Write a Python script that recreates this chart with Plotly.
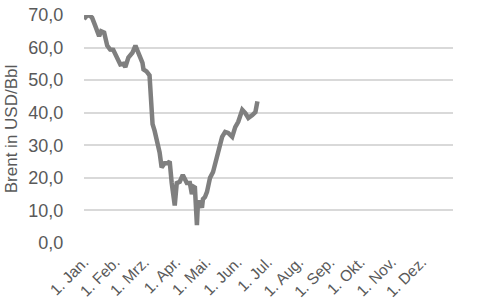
import plotly.graph_objects as go

dates = [
    "2020-01-01", "2020-01-03", "2020-01-06", "2020-01-09", "2020-01-12", "2020-01-14",
    "2020-01-16", "2020-01-18", "2020-01-21", "2020-01-24", "2020-01-27", "2020-01-30",
    "2020-02-03", "2020-02-06", "2020-02-09", "2020-02-11", "2020-02-14", "2020-02-18",
    "2020-02-21", "2020-02-24", "2020-02-28", "2020-02-29", "2020-03-03", "2020-03-06",
    "2020-03-08", "2020-03-09", "2020-03-11", "2020-03-13", "2020-03-16", "2020-03-18",
    "2020-03-21", "2020-03-24", "2020-03-26", "2020-03-28", "2020-03-31", "2020-04-02",
    "2020-04-05", "2020-04-08", "2020-04-12", "2020-04-15", "2020-04-17", "2020-04-19",
    "2020-04-20", "2020-04-22", "2020-04-23", "2020-04-25", "2020-04-27", "2020-04-28",
    "2020-04-30", "2020-05-02", "2020-05-05", "2020-05-08", "2020-05-10", "2020-05-13",
    "2020-05-17", "2020-05-20", "2020-05-23", "2020-05-27", "2020-05-30", "2020-06-02",
    "2020-06-06", "2020-06-09", "2020-06-12", "2020-06-16", "2020-06-19", "2020-06-21",
]
brent = [
    68.7, 69.5, 70.0, 69.2, 66.8, 64.5,
    63.5, 65.0, 64.6, 60.6, 59.4, 59.3,
    56.5, 54.8, 55.0, 54.0, 56.9, 58.4,
    60.6, 58.0, 55.3, 53.3, 52.7, 51.5,
    44.0, 36.5, 34.5, 31.8, 27.8, 23.2,
    24.5, 24.5, 25.0, 18.4, 11.5, 18.4,
    18.8, 20.9, 18.4, 18.4, 15.0, 17.2,
    17.0, 5.5, 12.5, 12.5, 10.8, 13.5,
    14.1, 15.7, 20.0, 21.8, 24.0, 28.0,
    32.6, 34.1, 33.8, 32.6, 35.6, 37.2,
    40.9, 39.9, 38.4, 39.3, 40.2, 43.5,
]

tick_dates = ["2020-01-01", "2020-02-01", "2020-03-01", "2020-04-01", "2020-05-01",
              "2020-06-01", "2020-07-01", "2020-08-01", "2020-09-01", "2020-10-01",
              "2020-11-01", "2020-12-01"]
tick_labels = ["1. Jan.", "1. Feb.", "1. Mrz.", "1. Apr.", "1. Mai.", "1. Jun.",
               "1. Jul.", "1. Aug.", "1. Sep.", "1. Okt.", "1. Nov.", "1. Dez."]
y_ticks = [0, 10, 20, 30, 40, 50, 60, 70]

fig = go.Figure()
fig.add_trace(go.Scatter(
    x=dates, y=brent, mode="lines",
    line=dict(color="#7f7f7f", width=4.5),
    showlegend=False, hoverinfo="skip",
))

fig.update_layout(
    width=479, height=306,
    margin=dict(l=84, r=26, t=15, b=63),
    paper_bgcolor="white", plot_bgcolor="white",
    separators=",.",
    font=dict(family="Liberation Sans, Arial, sans-serif", color="#595959"),
    xaxis=dict(
        type="date",
        range=["2020-01-01", "2021-01-01"],
        tickvals=tick_dates, ticktext=tick_labels,
        tickangle=-45,
        tickfont=dict(size=15.5, color="#595959"),
        showgrid=False, zeroline=False, showline=False,
        ticks="outside", ticklen=3, tickcolor="rgba(0,0,0,0)",
        automargin=False,
    ),
    yaxis=dict(
        range=[0, 70],
        tickvals=y_ticks,
        tickformat=".1f",
        tickfont=dict(size=18, color="#595959"),
        showgrid=True, gridcolor="#d9d9d9", gridwidth=1.5,
        zeroline=False, showline=False,
        ticks="outside", ticklen=16, tickcolor="rgba(0,0,0,0)",
        automargin=False,
        title=dict(text="Brent in USD/Bbl", font=dict(size=17, color="#595959"), standoff=6),
    ),
)

fig.write_html("out.html")
